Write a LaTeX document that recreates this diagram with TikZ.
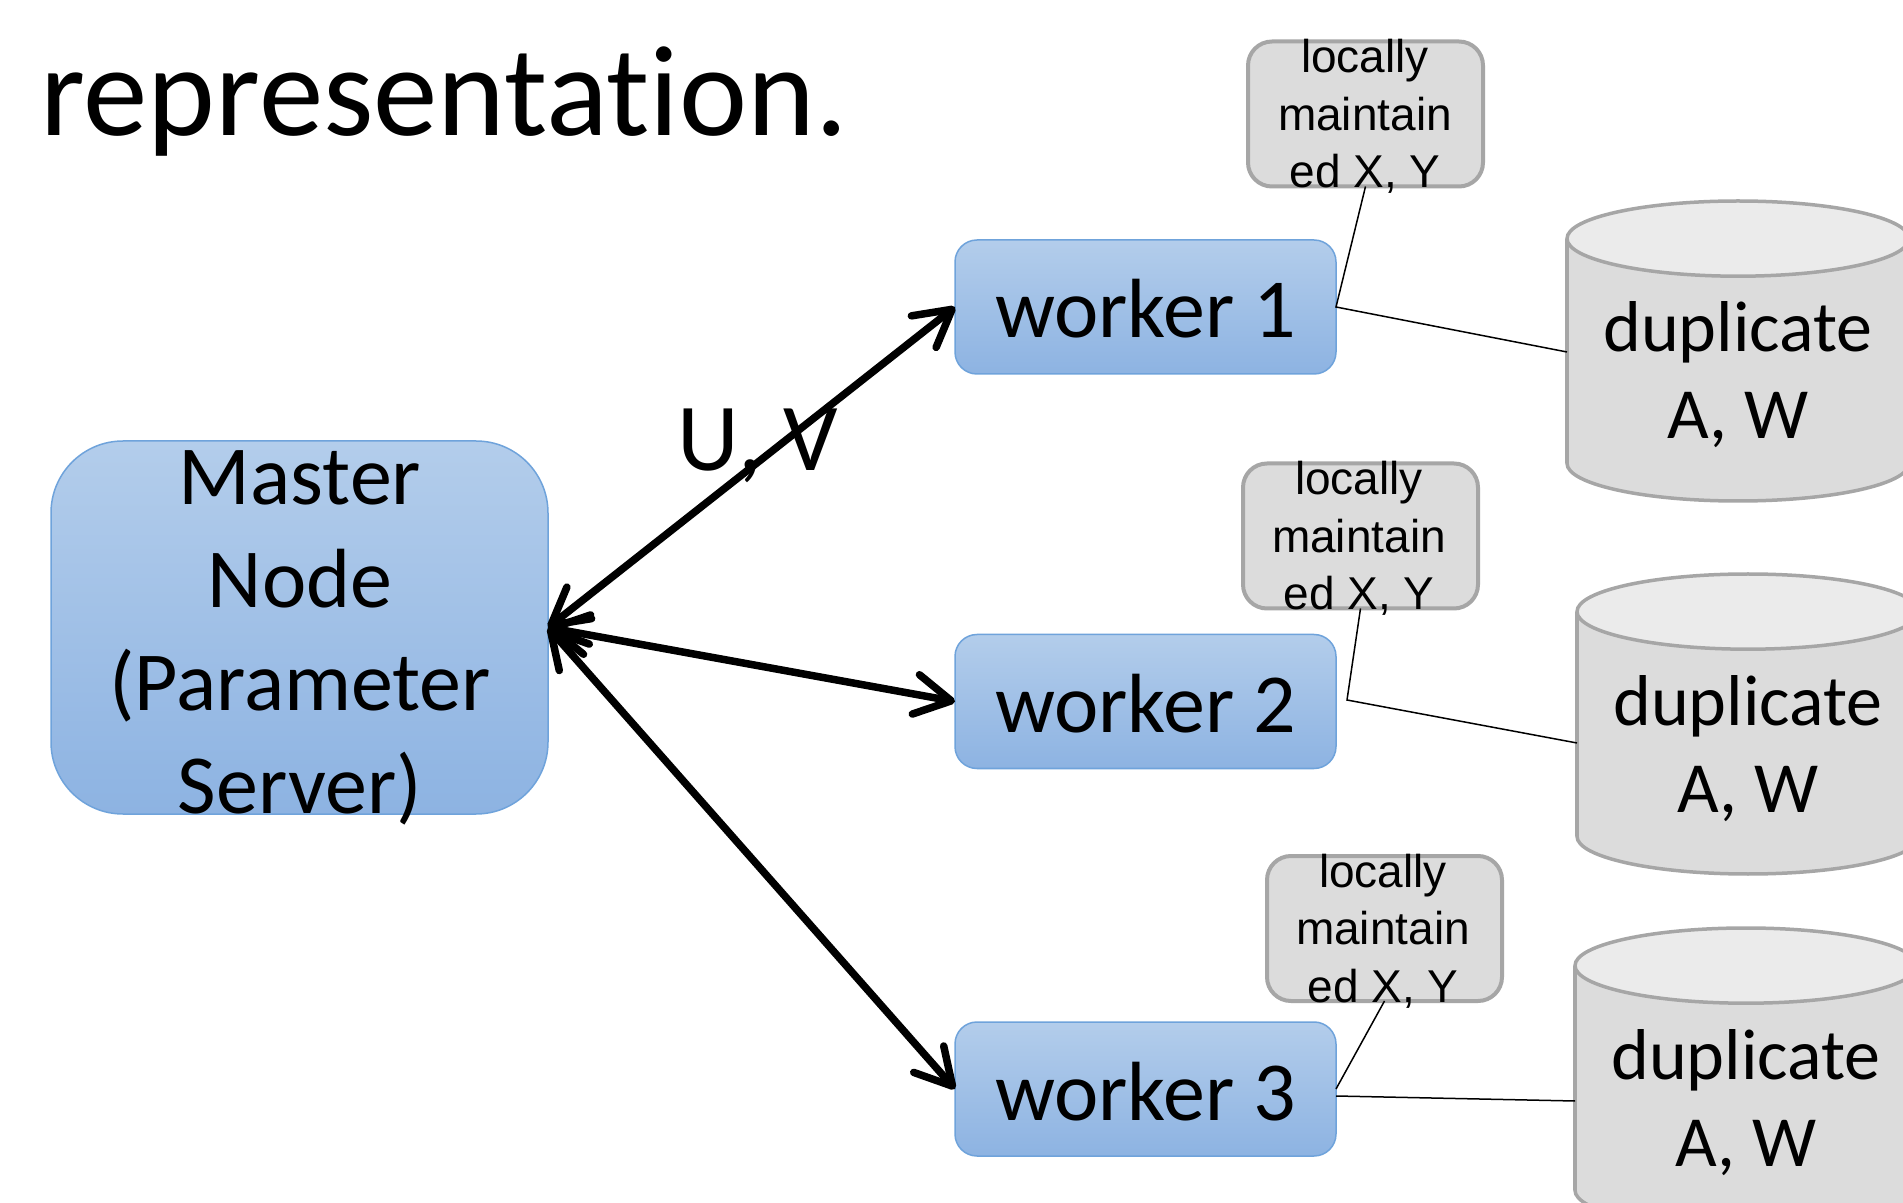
\documentclass[tikz,border=0pt]{standalone}
\usepackage{fontspec}
\setmainfont{Carlito}[Ligatures=NoCommon]
\newfontfamily\calloutfont{Liberation Sans}
\usetikzlibrary{arrows.meta}
\definecolor{boxtop}{HTML}{B3CDEB}
\definecolor{boxbot}{HTML}{8DB3E2}
\definecolor{boxline}{HTML}{6FA3DB}
\definecolor{grayfill}{HTML}{DCDCDC}
\definecolor{graytop}{HTML}{EBEBEB}
\definecolor{grayline}{HTML}{A6A6A6}
\begin{document}
\begin{tikzpicture}[x=0.5pt,y=-0.5pt,
  bluebox/.style={draw=boxline, line width=0.75pt, top color=boxtop, bottom color=boxbot, inner sep=0pt, outer sep=0pt},
  masterbox/.style={bluebox, rounded corners=36pt, minimum width=248.5pt, minimum height=186.5pt},
  workerbox/.style={bluebox, rounded corners=11pt, minimum width=190.5pt, minimum height=67pt, font=\fontsize{42}{51}\selectfont, text height=31pt, text depth=0pt},
  bigtext/.style={font=\fontsize{42}{51.5}\selectfont, align=center, inner sep=0pt},
  callout/.style={draw=grayline, line width=2pt, fill=grayfill, rounded corners=12pt, minimum width=117.5pt, minimum height=72.5pt, inner sep=0pt, outer sep=0pt},
  callouttext/.style={font=\calloutfont\fontsize{23}{28.75}\selectfont, align=center, inner sep=0pt},
  cyltext/.style={font=\fontsize{36}{43.5}\selectfont, align=center, inner sep=0pt},
  cylline/.style={draw=grayline, line width=1.75pt},
  link/.style={draw=black, line width=3.75pt, line cap=round, {Straight Barb[length=18pt,width=20pt,round]}-{Straight Barb[length=18pt,width=20pt,round]}},
  thinline/.style={draw=black, line width=0.75pt},
]
\useasboundingbox (0,0) rectangle (1903,1203);
\clip (0,0) rectangle (1903,1203);
\fill[white] (0,0) rectangle (1903,1203);

% title line
\node[font=\fontsize{64.5}{77}\selectfont, anchor=base west, inner sep=0pt] (title) at (40,136) {representation.};

% cylinders
\foreach \cx/\yt/\yb in {1738/238.6/463.4, 1748/611.6/836.4, 1746/965.6/1190.4}{
  \path[cylline, fill=grayfill] (\cx,\yb) ellipse [x radius=85.5pt, y radius=18.8pt];
  \fill[grayfill] (\cx-171,\yt) rectangle (\cx+171,\yb);
  \draw[cylline] (\cx-171,\yt) -- (\cx-171,\yb);
  \draw[cylline] (\cx+171,\yt) -- (\cx+171,\yb);
  \path[cylline, fill=graytop] (\cx,\yt) ellipse [x radius=85.5pt, y radius=18.8pt];
}
\node[cyltext] (d1) at (1738,378) {\strut duplicate\\\strut A, W};
\node[cyltext] (d2) at (1748,752) {\strut duplicate\\\strut A, W};
\node[cyltext] (d3) at (1746,1106) {\strut duplicate\\\strut A, W};
\coordinate (cy1) at (1567,352);
\coordinate (cy2) at (1577,743);
\coordinate (cy3) at (1575,1101);

% master node
\node[masterbox] (master) at (299.5,627.5) {};
\node[bigtext] (mastertxt) at (300,638) {\strut Master\\\strut Node\\\strut (Parameter\\\strut Server)};

% workers
\node[workerbox] (w1) at (1145.5,307) {worker 1};
\node[workerbox] (w2) at (1145.5,701.5) {worker 2};
\node[workerbox] (w3) at (1145.5,1089) {worker 3};

% callouts
\node[callout] (c1) at (1365.5,114) {};
\node[callout] (c2) at (1360.5,536) {};
\node[callout] (c3) at (1384.5,928.5) {};
\node[callouttext] (t1) at (1365,119) {\strut locally\\\strut maintain\\\strut ed X, Y};
\node[callouttext] (t2) at (1359,541) {\strut locally\\\strut maintain\\\strut ed X, Y};
\node[callouttext] (t3) at (1383,933) {\strut locally\\\strut maintain\\\strut ed X, Y};

% thin pointer lines
\coordinate (j2) at (1347,700);
\coordinate (j3) at (1336,1096);
\draw[thinline] (c1.south) -- (w1.east) -- (cy1);
\draw[thinline] (c2.south) -- (j2) -- (cy2);
\draw[thinline] (c3.south) -- (w3.east);
\draw[thinline] (j3) -- (cy3);

% label and arrows
\node[font=\fontsize{48}{58}\selectfont, anchor=base, inner sep=0pt] (uv) at (758,471) {U, V};
\draw[link] (master.east) -- (w1.west);
\draw[link] (master.east) -- (w2.west);
\draw[link] (master.east) -- (w3.west);
\end{tikzpicture}
\end{document}
